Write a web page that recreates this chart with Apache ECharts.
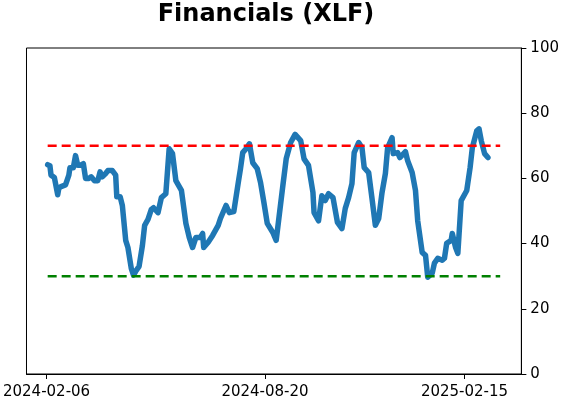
<!DOCTYPE html>
<html>
<head>
<meta charset="utf-8">
<script src="https://cdn.jsdelivr.net/npm/echarts@6/dist/echarts.min.js"></script>
<style>html,body{margin:0;padding:0;background:#fff;}#c{width:562px;height:402px;}</style>
</head>
<body>
<div id="c"></div>
<script>
const dates = [
'2024-02-07','2024-02-09','2024-02-10','2024-02-13','2024-02-16','2024-02-17','2024-02-19','2024-02-23','2024-02-26','2024-02-27',
'2024-03-01','2024-03-03','2024-03-05','2024-03-07','2024-03-10','2024-03-12','2024-03-15','2024-03-17','2024-03-20','2024-03-23',
'2024-03-25','2024-03-27','2024-03-30','2024-04-01','2024-04-05','2024-04-08','2024-04-09','2024-04-12','2024-04-14','2024-04-17',
'2024-04-19','2024-04-22','2024-04-24','2024-04-26','2024-04-29','2024-05-02','2024-05-04','2024-05-07','2024-05-10','2024-05-12',
'2024-05-16','2024-05-19','2024-05-23','2024-05-26','2024-05-29','2024-06-01','2024-06-06','2024-06-10','2024-06-13','2024-06-16',
'2024-06-19','2024-06-23','2024-06-25','2024-06-26','2024-06-30','2024-07-04','2024-07-09','2024-07-11','2024-07-16','2024-07-19',
'2024-07-23','2024-07-27','2024-07-29','2024-07-31','2024-08-03','2024-08-06','2024-08-09','2024-08-13','2024-08-16','2024-08-19',
'2024-08-22','2024-08-27','2024-08-30','2024-09-01','2024-09-05','2024-09-08','2024-09-12','2024-09-16','2024-09-21','2024-09-24',
'2024-09-28','2024-10-02','2024-10-03','2024-10-07','2024-10-10','2024-10-13','2024-10-16','2024-10-20','2024-10-24','2024-10-28',
'2024-10-31','2024-11-03','2024-11-06','2024-11-08','2024-11-12','2024-11-15','2024-11-17','2024-11-21','2024-11-24','2024-11-27',
'2024-11-30','2024-12-03','2024-12-06','2024-12-08','2024-12-12','2024-12-13','2024-12-17','2024-12-19','2024-12-24','2024-12-26',
'2024-12-30','2025-01-02','2025-01-04','2025-01-08','2025-01-11','2025-01-13','2025-01-17','2025-01-19','2025-01-22','2025-01-26',
'2025-01-28','2025-01-30','2025-02-03','2025-02-04','2025-02-07','2025-02-09','2025-02-12','2025-02-17','2025-02-20','2025-02-22',
'2025-02-26','2025-02-28','2025-03-02','2025-03-05','2025-03-08'
];
const values = [
64.2,63.9,61,60.3,55,57,57.5,58,61,63.3,
63.3,67,64,64,64.5,60,60,60.5,59.3,59.3,
62,60.5,61.5,62.4,62.4,61,54.4,54.4,51.7,41,
38.8,32.4,30.3,31.5,33,39.4,45.6,47.4,50.5,51,
49.5,54.1,55.3,69.1,67.6,59.3,56.3,46.2,41.9,38.8,
41.9,41.9,43.1,38.8,40.4,42.5,45.6,47.7,51.7,49.5,
49.8,58.7,63,67.9,69.1,70.6,64.8,63,58.7,52.6,
46.2,43.4,41,46.5,57.8,66,71,73.5,71.6,66,
64,55.7,49.5,47,54.7,53.2,55.3,54.1,46.5,44.6,
50.8,54.1,58.4,67.9,71,69.4,63.3,61.8,53.8,45.6,
47.7,55.7,61.5,69.4,72.5,67.6,67.9,66.4,68.2,65.4,
61.8,56.3,47,37.3,36.4,29.7,30.9,34,35.5,34.9,
35.5,40.1,41,43.1,38.8,37,53.2,56.3,63.3,69.4,
74.6,75.2,71.6,67.6,66.4
];
const refDates = ['2024-02-07','2025-03-19'];
const upperLevel = 70;
const lowerLevel = 30;
const xTickLabels = ['2024-02-06','2024-08-20','2025-02-15'];
const xRange = ['2024-01-19','2025-04-07'];
const titleText = 'Financials (XLF)';

function ts(d) { return Date.parse(d + 'T00:00:00Z'); }
function fmt(v) { return new Date(v).toISOString().slice(0, 10); }

const chart = echarts.init(document.getElementById('c'), null, {renderer:'canvas'});
const font = 'DejaVu Sans';
chart.setOption({
  animation: false,
  backgroundColor: '#fff',
  graphic: [{
    type: 'text',
    x: 266, y: 15,
    style: {text: titleText, textAlign: 'center', textVerticalAlign: 'middle',
      font: 'bold 24px "DejaVu Sans"', fill: '#000'}
  }],
  grid: {left: 25, right: 40, top: 48, bottom: 28, show: true, borderColor: '#000', borderWidth: 1},
  xAxis: {
    type: 'value',
    min: ts(xRange[0]),
    max: ts(xRange[1]),
    splitLine: {show: false},
    axisLine: {show: true, onZero: false, lineStyle: {color: '#000', width: 1}},
    axisTick: {show: true, customValues: xTickLabels.map(ts), length: 5, lineStyle: {color: '#000'}},
    axisLabel: {customValues: xTickLabels.map(ts), color: '#000', fontFamily: font, fontSize: 15, margin: 11,
      showMinLabel: true, showMaxLabel: true, hideOverlap: false,
      formatter: function (v) { return fmt(v); }}
  },
  yAxis: {
    type: 'value', position: 'right', min: 0, max: 100, interval: 20,
    splitLine: {show: false},
    axisLine: {show: true, lineStyle: {color: '#000', width: 1}},
    axisTick: {show: true, length: 5, lineStyle: {color: '#000'}},
    axisLabel: {color: '#000', fontFamily: font, fontSize: 15, margin: 9}
  },
  series: [
    {type: 'line', data: refDates.map(d => [ts(d), upperLevel]), showSymbol: false, silent: true,
      lineStyle: {color: '#ff0000', width: 2.5, type: [9, 5]}, z: 3},
    {type: 'line', data: refDates.map(d => [ts(d), lowerLevel]), showSymbol: false, silent: true,
      lineStyle: {color: '#008000', width: 2.5, type: [9, 5]}, z: 3},
    {type: 'line', data: dates.map((d, i) => [ts(d), values[i]]), showSymbol: false,
      lineStyle: {color: '#1f77b4', width: 5.5, cap: 'round', join: 'round'}, z: 2}
  ]
});
</script>
</body>
</html>
